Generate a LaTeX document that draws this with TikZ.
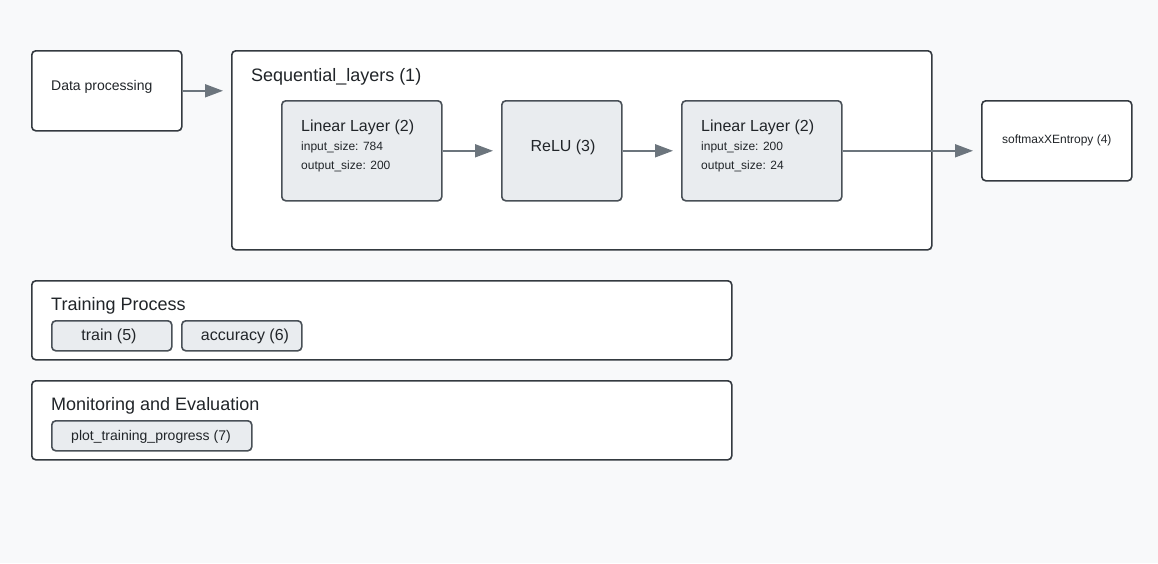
\documentclass[tikz,border=0pt]{standalone}
\usepackage{fontspec}
\setmainfont{Liberation Sans}
\usetikzlibrary{arrows.meta}
\definecolor{bgc}{HTML}{F8F9FA}
\definecolor{outerc}{HTML}{343A40}
\definecolor{innerc}{HTML}{495057}
\definecolor{grayfill}{HTML}{E9ECEF}
\definecolor{arrc}{HTML}{6C757D}
\definecolor{txtc}{HTML}{212529}
\newcommand{\fsz}[1]{\fontsize{#1}{#1}\selectfont}
\tikzset{
  outerbox/.style={draw=outerc, fill=white, line width=1.6pt, rounded corners=4pt, anchor=north west, inner sep=0pt},
  innerbox/.style={draw=innerc, fill=grayfill, line width=1.6pt, rounded corners=4pt, anchor=north west, inner sep=0pt, text=txtc},
  lbl/.style={anchor=base west, inner sep=0pt, text=txtc},
  arr/.style={draw=arrc, line width=1.8pt, -{Triangle[length=18pt,width=13pt]}, shorten >=8pt},
}
\begin{document}
\begin{tikzpicture}[x=1pt,y=-1pt]
\useasboundingbox (0,0) rectangle (1158,563);
\fill[bgc] (0,0) rectangle (1158,563);
% outer boxes
\node[outerbox, minimum width=150, minimum height=80] (dp) at (31,50) {};
\node[lbl, font=\fsz{14}] (dpt) at (51,90) {Data processing};
\node[outerbox, minimum width=700, minimum height=199] (seq) at (231,50) {};
\node[lbl, font=\fsz{18}] (seqt) at (251,81) {Sequential\_layers (1)};
\node[outerbox, minimum width=150, minimum height=80, font=\fsz{12}, text=txtc] (soft) at (981,100) {softmaxXEntropy (4)};
% inner layers
\node[innerbox, minimum width=160, minimum height=100] (lin1) at (281,100) {};
\node[lbl, font=\fsz{16}] (lin1t) at (301,131) {Linear Layer (2)};
\node[lbl, font=\fsz{12}] (lin1a) at (301,150) {input\_size: 784};
\node[lbl, font=\fsz{12}] (lin1b) at (301,169) {output\_size: 200};
\node[innerbox, minimum width=120, minimum height=100] (relu) at (501,100) {};
\node[anchor=base, inner sep=0pt, text=txtc, font=\fsz{16}] (relut) at (563,151) {ReLU (3)};
\node[innerbox, minimum width=160, minimum height=100] (lin2) at (681,100) {};
\node[lbl, font=\fsz{16}] (lin2t) at (701,131) {Linear Layer (2)};
\node[lbl, font=\fsz{12}] (lin2a) at (701,150) {input\_size: 200};
\node[lbl, font=\fsz{12}] (lin2b) at (701,169) {output\_size: 24};
% training
\node[outerbox, minimum width=700, minimum height=79] (train) at (31,280) {};
\node[lbl, font=\fsz{18}] (traint) at (51,310) {Training Process};
\node[innerbox, minimum width=120, minimum height=30] (tr5) at (51,320) {};
\node[anchor=base, inner sep=0pt, text=txtc, font=\fsz{16}] (tr5t) at (109,340) {train (5)};
\node[innerbox, minimum width=120, minimum height=30] (acc) at (181,320) {};
\node[anchor=base, inner sep=0pt, text=txtc, font=\fsz{16}] (acct) at (245,340) {accuracy (6)};
% monitoring
\node[outerbox, minimum width=700, minimum height=79] (mon) at (31,380) {};
\node[lbl, font=\fsz{18}] (mont) at (51,410) {Monitoring and Evaluation};
\node[innerbox, minimum width=200, minimum height=30] (plot) at (51,420) {};
\node[anchor=base, inner sep=0pt, text=txtc, font=\fsz{14}] (plott) at (151,440) {plot\_training\_progress (7)};
% arrows
\draw[arr] (dp.east) -- (dp.east -| seq.west);
\draw[arr] (lin1.east) -- (relu.west);
\draw[arr] (relu.east) -- (lin2.west);
\draw[arr] (lin2.east) -- (soft.west |- lin2.east);
\end{tikzpicture}
\end{document}
